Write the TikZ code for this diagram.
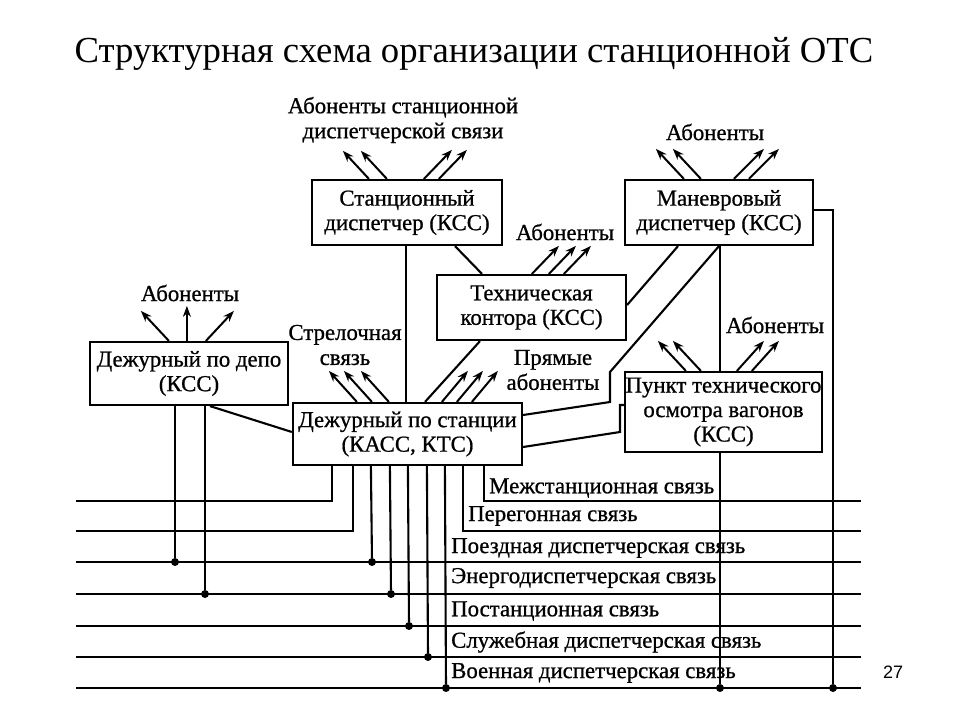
\documentclass[tikz,border=0pt]{standalone}
\usepackage{fontspec}
\setmainfont{Liberation Serif}
\newfontfamily\diagfont[FakeBold=0.8]{Liberation Serif}
\newfontfamily\numfont{Liberation Sans}
\usetikzlibrary{arrows.meta,calc}
\begin{document}
\begin{tikzpicture}[x=1pt,y=-1pt,
  box/.style={draw, line width=2.2pt, align=center, inner sep=0pt, font=\diagfont\fontsize{22.8}{24.5}\selectfont},
  lbl/.style={align=center, inner sep=0pt, font=\diagfont\fontsize{22.8}{25}\selectfont},
  buslbl/.style={anchor=west, inner sep=0pt, font=\diagfont\fontsize{22.8}{24}\selectfont},
  wire/.style={line width=2.1pt},
  arr/.style={line width=2pt, -{Stealth[length=11pt,width=8pt]}},
  dot/.style={circle, fill, inner sep=0pt, minimum size=8pt}]
\useasboundingbox (0,0) rectangle (960,720);
\fill[white] (0,0) rectangle (960,720);

% title and page number
\node[anchor=base, inner sep=0pt, font=\fontsize{36.7}{40}\selectfont] (title) at (474,62) {Структурная схема организации станционной ОТС};
\node[inner sep=0pt, font=\numfont\fontsize{18}{20}\selectfont] (pnum) at (893,672) {27};

% boxes
\node[box, minimum width=190pt, minimum height=65pt] (sd) at (407,212.5) {Станционный\\диспетчер (КСС)};
\node[box, minimum width=189pt, minimum height=65pt] (tk) at (531.5,307.5) {Техническая\\контора (КСС)};
\node[box, minimum width=188pt, minimum height=65pt] (md) at (719,212.5) {Маневровый\\диспетчер (КСС)};
\node[box, minimum width=197pt, minimum height=80pt] (pk) at (723.5,412) {Пункт технического\\осмотра вагонов\\(КСС)};
\node[box, minimum width=198pt, minimum height=63pt] (dd) at (189,373.5) {Дежурный по депо\\(КСС)};
\node[box, minimum width=229pt, minimum height=62pt] (ds) at (407.5,434) {Дежурный по станции\\(КАСС, КТС)};

% labels
\node[lbl] (l1) at (403,120) {Абоненты станционной\\диспетчерской связи};
\node[lbl] (l2) at (565,232) {Абоненты};
\node[lbl] (l3) at (715,132) {Абоненты};
\node[lbl] (l4) at (775,325) {Абоненты};
\node[lbl] (l5) at (190,293) {Абоненты};
\node[lbl] (l6) at (345,345) {Стрелочная\\связь};
\node[lbl] (l7) at (553,370) {Прямые\\абоненты};

% bus line ends
\coordinate (L1) at (76,501); \coordinate (R1) at (861,501);
\coordinate (L2) at (76,531); \coordinate (R2) at (861,531);
\coordinate (L3) at (76,562); \coordinate (R3) at (861,562);
\coordinate (L4) at (76,594); \coordinate (R4) at (861,594);
\coordinate (L5) at (76,626); \coordinate (R5) at (861,626);
\coordinate (L6) at (76,657); \coordinate (R6) at (861,657);
\coordinate (L7) at (76,688); \coordinate (R7) at (861,688);
\foreach \i in {3,...,7} {\draw[wire] (L\i) -- (R\i);}

% bus labels
\node[buslbl] (b1) at (489,488) {Межстанционная связь};
\node[buslbl] (b2) at (468,516) {Перегонная связь};
\node[buslbl] (b3) at (451,548) {Поездная диспетчерская связь};
\node[buslbl] (b4) at (451,578) {Энергодиспетчерская связь};
\node[buslbl] (b5) at (451,611) {Постанционная связь};
\node[buslbl] (b6) at (451,642) {Служебная диспетчерская связь};
\node[buslbl] (b7) at (451,673) {Военная диспетчерская связь};

% dots
\node[dot] (d1) at (175,562) {};
\node[dot] (d2) at (205,594) {};
\node[dot] (d3) at (372,562) {};
\node[dot] (d4) at (391,594) {};
\node[dot] (d5) at (409,626) {};
\node[dot] (d6) at (428,657) {};
\node[dot] (d7) at (446,688) {};
\node[dot] (d8) at (720,688) {};
\node[dot] (d9) at (833,688) {};

% wires between boxes
\draw[wire] ([xshift=-1pt]sd.south) -- ([xshift=-1.5pt]ds.north);
\draw[wire] ([xshift=48pt]sd.south) -- ([xshift=-49.5pt]tk.north);
\draw[wire] ([xshift=-41pt]md.south) -- ([yshift=2.5pt]tk.east);
\draw[wire] (md.south) -- (610,372) -- (610,402) -- ([yshift=19pt]ds.east);
\draw[wire] ([yshift=-13pt]ds.east) -- (620,432) -- (620,405) -- ([yshift=7pt]pk.west);
\draw[wire] ([xshift=1pt]md.south) -- ([xshift=-3.5pt]pk.north);
\draw[wire] ([xshift=-3.5pt]pk.south) -- (d8);
\draw[wire] ([yshift=2.5pt]md.east) -| (d9);
\draw[wire] ([xshift=21pt]dd.south) -- ([yshift=2pt]ds.west);
\draw[wire] ([xshift=17.5pt]ds.north) -- ([xshift=-51.5pt]tk.south);
\draw[wire] ([xshift=-14pt]dd.south) -- (d1);
\draw[wire] ([xshift=16pt]dd.south) -- (d2);

% wires from station duty to bus
\draw[wire] ([xshift=40pt]ds.south west) |- (L1);
\draw[wire] ([xshift=61pt]ds.south west) |- (L2);
\draw[wire] ([xshift=79pt]ds.south west) -- (d3);
\draw[wire] ([xshift=98pt]ds.south west) -- (d4);
\draw[wire] ([xshift=116pt]ds.south west) -- (d5);
\draw[wire] ([xshift=135pt]ds.south west) -- (d6);
\draw[wire] ([xshift=153pt]ds.south west) -- (d7);
\draw[wire] ([xshift=171pt]ds.south west) |- (R2);
\draw[wire] ([xshift=192pt]ds.south west) |- (R1);

% arrows
\draw[arr] ([xshift=58pt]sd.north west) -- ++(-26,-28);
\draw[arr] ([xshift=76pt]sd.north west) -- ++(-26,-28);
\draw[arr] ([xshift=113pt]sd.north west) -- ++(28,-29);
\draw[arr] ([xshift=128pt]sd.north west) -- ++(28,-29);

\draw[arr] ([xshift=96pt]tk.north west) -- ++(27,-28);
\draw[arr] ([xshift=113pt]tk.north west) -- ++(27,-28);
\draw[arr] ([xshift=128pt]tk.north west) -- ++(27,-28);

\draw[arr] ([xshift=60pt]md.north west) -- ++(-28,-30);
\draw[arr] ([xshift=77pt]md.north west) -- ++(-28,-30);
\draw[arr] ([xshift=110pt]md.north west) -- ++(30,-30);
\draw[arr] ([xshift=125pt]md.north west) -- ++(30,-30);

\draw[arr] ([xshift=62pt]pk.north west) -- ++(-28,-30);
\draw[arr] ([xshift=77pt]pk.north west) -- ++(-28,-30);
\draw[arr] ([xshift=113pt]pk.north west) -- ++(27,-30);
\draw[arr] ([xshift=128pt]pk.north west) -- ++(27,-30);

\draw[arr] ([xshift=80pt]dd.north west) -- ++(-28,-30);
\draw[arr] ([xshift=98pt]dd.north west) -- ++(0,-35);
\draw[arr] ([xshift=117pt]dd.north west) -- ++(28,-30);

\draw[arr] ([xshift=65pt]ds.north west) -- ++(-28,-31);
\draw[arr] ([xshift=80pt]ds.north west) -- ++(-28,-31);
\draw[arr] ([xshift=97pt]ds.north west) -- ++(-28,-31);
\draw[arr] ([xshift=150pt]ds.north west) -- ++(26,-31);
\draw[arr] ([xshift=165pt]ds.north west) -- ++(26,-31);
\draw[arr] ([xshift=180pt]ds.north west) -- ++(26,-31);
\end{tikzpicture}
\end{document}
